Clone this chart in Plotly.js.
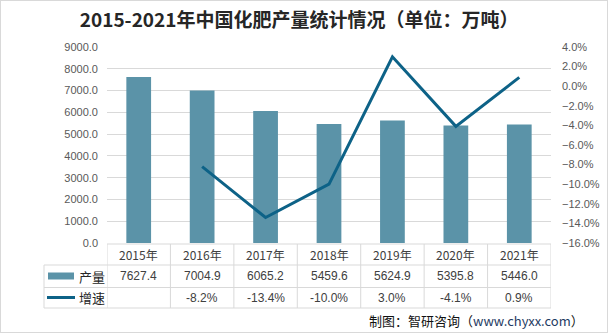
<!DOCTYPE html>
<html>
<head>
<meta charset="utf-8">
<script src="https://cdn.plot.ly/plotly-3.0.1.min.js"></script>
<style>
html,body{margin:0;padding:0;background:#fff;}
#wrap{position:relative;width:608px;height:333px;}
#chart{width:608px;height:333px;}
#frame{position:absolute;left:0;top:0;width:606px;height:331px;border:1px solid #d9d9d9;pointer-events:none;}
</style>
</head>
<body>
<div id="wrap"><div id="chart"></div><div id="frame"></div></div>
<script>
const years = ["2015年","2016年","2017年","2018年","2019年","2020年","2021年"];
const output = [7627.4, 7004.9, 6065.2, 5459.6, 5624.9, 5395.8, 5446.0];
const growth = [null, -8.2, -13.4, -10.0, 3.0, -4.1, 0.9];
const seriesNames = ["产量", "增速"];
const titleText = "2015-2021年中国化肥产量统计情况（单位：万吨）";
const sourceText = "制图：智研咨询（<span style='color:#1f3b63'>www.chyxx.com</span>）";

const barColor = "#5b93a8";
const lineColor = "#0d6287";
const gridColor = "#d9d9d9";
const txt = "#404040";

const xIdx = years.map((_, i) => i);

const traces = [
  {type:"bar", x:xIdx, y:output, name:seriesNames[0], marker:{color:barColor}, width:0.39, yaxis:"y", hoverinfo:"skip"},
  {type:"scatter", mode:"lines", x:xIdx, y:growth, name:seriesNames[1], line:{color:lineColor, width:3}, yaxis:"y2", connectgaps:false, hoverinfo:"skip"}
];

// table geometry in paper coords (plot area 196px tall)
const H = 196, W = 444, L = 107;
const py = p => (243 - p) / H;
const px = p => (p - L) / W;
const rowY = [py(244), py(265), py(287.5), py(308)];
const shapes = [];
const lineStyle = {color:gridColor, width:1};
// horizontal lines
shapes.push({type:"line", xref:"x", yref:"paper", x0:-0.5, x1:years.length-0.5, y0:rowY[0], y1:rowY[0], line:lineStyle});
for (let r = 1; r < 4; r++) {
  shapes.push({type:"line", xref:"paper", yref:"paper", x0:px(44), x1:1, y0:rowY[r], y1:rowY[r], line:lineStyle});
}
// vertical lines
for (let i = 0; i <= years.length; i++) {
  shapes.push({type:"line", xref:"x", yref:"paper", x0:i-0.5, x1:i-0.5, y0:rowY[0], y1:rowY[3], line:lineStyle});
}
shapes.push({type:"line", xref:"paper", yref:"paper", x0:px(44), x1:px(44), y0:rowY[1], y1:rowY[3], line:lineStyle});
// legend keys
shapes.push({type:"rect", xref:"paper", yref:"paper", x0:px(48), x1:px(74), y0:py(279.5), y1:py(272.5), fillcolor:barColor, line:{width:0}});
shapes.push({type:"line", xref:"paper", yref:"paper", x0:px(47), x1:px(75), y0:py(297.5), y1:py(297.5), line:{color:lineColor, width:3}});

const annotations = [];
const cellFont = {family:"'Liberation Sans', Arial, sans-serif", size:12, color:txt};
years.forEach((y, i) => {
  annotations.push({xref:"x", yref:"paper", x:i, y:py(254.5), text:y, showarrow:false, font:{family:"'Noto Sans CJK SC', sans-serif", size:12, color:txt}, xanchor:"center", yanchor:"middle"});
  annotations.push({xref:"x", yref:"paper", x:i, y:py(276), text:output[i].toFixed(1), showarrow:false, font:cellFont, xanchor:"center", yanchor:"middle"});
  if (growth[i] !== null) {
    annotations.push({xref:"x", yref:"paper", x:i, y:py(298), text:growth[i].toFixed(1)+"%", showarrow:false, font:cellFont, xanchor:"center", yanchor:"middle"});
  }
});
annotations.push({xref:"paper", yref:"paper", x:px(77), y:py(276), text:seriesNames[0], showarrow:false, font:{family:"'Noto Sans CJK SC', sans-serif", size:13, color:"#262626"}, xanchor:"left", yanchor:"middle"});
annotations.push({xref:"paper", yref:"paper", x:px(77), y:py(297.5), text:seriesNames[1], showarrow:false, font:{family:"'Noto Sans CJK SC', sans-serif", size:13, color:"#262626"}, xanchor:"left", yanchor:"middle"});
annotations.push({xref:"paper", yref:"paper", x:px(586), y:py(320), text:sourceText, showarrow:false, font:{family:"'Noto Sans CJK SC', sans-serif", size:13, color:"#111"}, xanchor:"right", yanchor:"middle"});

const layout = {
  width:608, height:333,
  margin:{l:107, r:57, t:47, b:90},
  paper_bgcolor:"#fff", plot_bgcolor:"#fff",
  showlegend:false,
  title:{text:"<b>"+titleText+"</b>", x:0.492, xanchor:"center", y:0.94, yanchor:"middle", font:{family:"'Noto Sans CJK SC', sans-serif", size:19, color:"#262626"}},
  xaxis:{range:[-0.5, years.length-0.5], showticklabels:false, showgrid:false, zeroline:false, showline:false, ticks:"", fixedrange:true},
  yaxis:{range:[0, 9000], dtick:1000, tickformat:".1f", showgrid:true, gridcolor:gridColor, gridwidth:1, zeroline:false, showline:false, ticks:"", ticklabelstandoff:8, tickfont:{family:"'Liberation Sans', Arial, sans-serif", size:11, color:"#595959"}},
  yaxis2:{range:[-16, 4], dtick:2, tickformat:".1f", ticksuffix:"%", overlaying:"y", side:"right", showgrid:false, zeroline:false, showline:false, ticks:"", ticklabelstandoff:10, tickfont:{family:"'Liberation Sans', Arial, sans-serif", size:11, color:"#595959"}},
  shapes:shapes,
  annotations:annotations,
  bargap:0.61
};

Plotly.newPlot("chart", traces, layout, {staticPlot:true, displayModeBar:false});
</script>
</body>
</html>
